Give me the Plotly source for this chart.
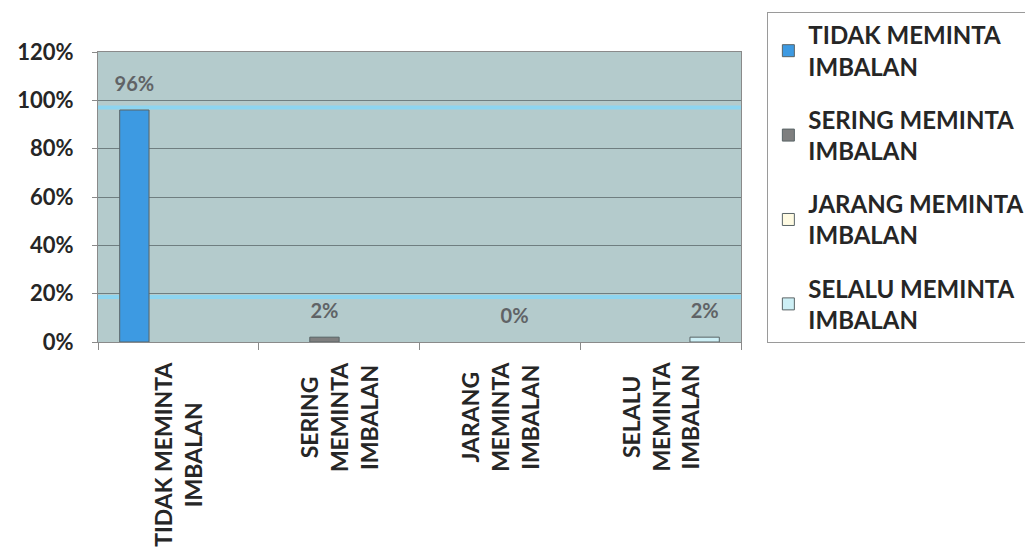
import plotly.graph_objects as go

categories = ["TIDAK MEMINTA IMBALAN", "SERING MEMINTA IMBALAN",
              "JARANG MEMINTA IMBALAN", "SELALU MEMINTA IMBALAN"]
category_labels = ["TIDAK MEMINTA<br>IMBALAN", "SERING<br>MEMINTA<br>IMBALAN",
                   "JARANG<br>MEMINTA<br>IMBALAN", "SELALU<br>MEMINTA<br>IMBALAN"]
series_names = ["TIDAK MEMINTA<br>IMBALAN", "SERING MEMINTA<br>IMBALAN",
                "JARANG MEMINTA<br>IMBALAN", "SELALU MEMINTA<br>IMBALAN"]
tidak_values = [0.96, None, None, None]
sering_values = [None, 0.02, None, None]
jarang_values = [None, None, 0.00, None]
selalu_values = [None, None, None, 0.02]
series_values = [tidak_values, sering_values, jarang_values, selalu_values]
series_colors = ["#3d9ae2", "#7f7f7f", "#fffbe3", "#cdeff5"]
highlight_lines = [0.97, 0.186]

FONT = "Lato"
fig = go.Figure()
for name, vals, col in zip(series_names, series_values, series_colors):
    texts = [None if v is None else
             f"<span style='font-size:20px'><b>{round(v*100)}%</b></span><br> "
             for v in vals]
    line_w = [0 if v == 0 else 1 for v in vals]
    fig.add_trace(go.Bar(
        x=categories, y=vals, name=name, legendgroup=name,
        marker=dict(color=col, line=dict(color="#5a6466", width=line_w)),
        text=texts, textposition="outside", cliponaxis=False, constraintext="none",
        textfont=dict(family=FONT, size=11, color="#606366"),
    ))

for lv in highlight_lines:
    fig.add_shape(type="line", xref="paper", x0=0, x1=1, yref="y", y0=lv, y1=lv,
                  line=dict(color="#8dd5f0", width=4), layer="between")

for cat, lab in zip(categories, category_labels):
    fig.add_annotation(x=cat, xref="x", y=-0.062, yref="paper", text=f"<b>{lab}</b>",
                       textangle=-90, align="center", showarrow=False,
                       xanchor="center", yanchor="top",
                       font=dict(family=FONT, size=23, color="#262626"))

fig.update_layout(
    width=1025, height=550,
    margin=dict(l=98, r=284, t=52, b=208, autoexpand=False),
    paper_bgcolor="white", plot_bgcolor="#b4cbcc",
    barmode="group", bargap=0.27, bargroupgap=0,
    showlegend=True,
    legend=dict(x=1.041, xref="paper", y=1.138, yanchor="top", xanchor="left",
                bgcolor="white", bordercolor="#9a9a9a", borderwidth=1,
                tracegroupgap=19, maxheight=600, itemwidth=30,
                font=dict(family=FONT, size=24, color="#262626", weight="bold")),
    font=dict(family=FONT, color="#262626"),
)
fig.update_yaxes(range=[0, 1.2], dtick=0.2, tickformat=".0%",
                 showgrid=True, gridcolor="#6f7e80", gridwidth=1,
                 showline=True, linecolor="#8a8a8a", mirror=True,
                 ticks="outside", ticklen=5, tickcolor="#8a8a8a",
                 ticklabelstandoff=14, zeroline=False,
                 tickfont=dict(family=FONT, size=22, color="#262626", weight="bold"))
fig.update_xaxes(showticklabels=False, tickson="boundaries", ticks="outside",
                 ticklen=7, tickcolor="#8a8a8a",
                 showline=True, linecolor="#8a8a8a", mirror=True, showgrid=False)

fig.write_html("out.html", config={"displayModeBar": False},
               post_script="document.body.style.margin='0';")
